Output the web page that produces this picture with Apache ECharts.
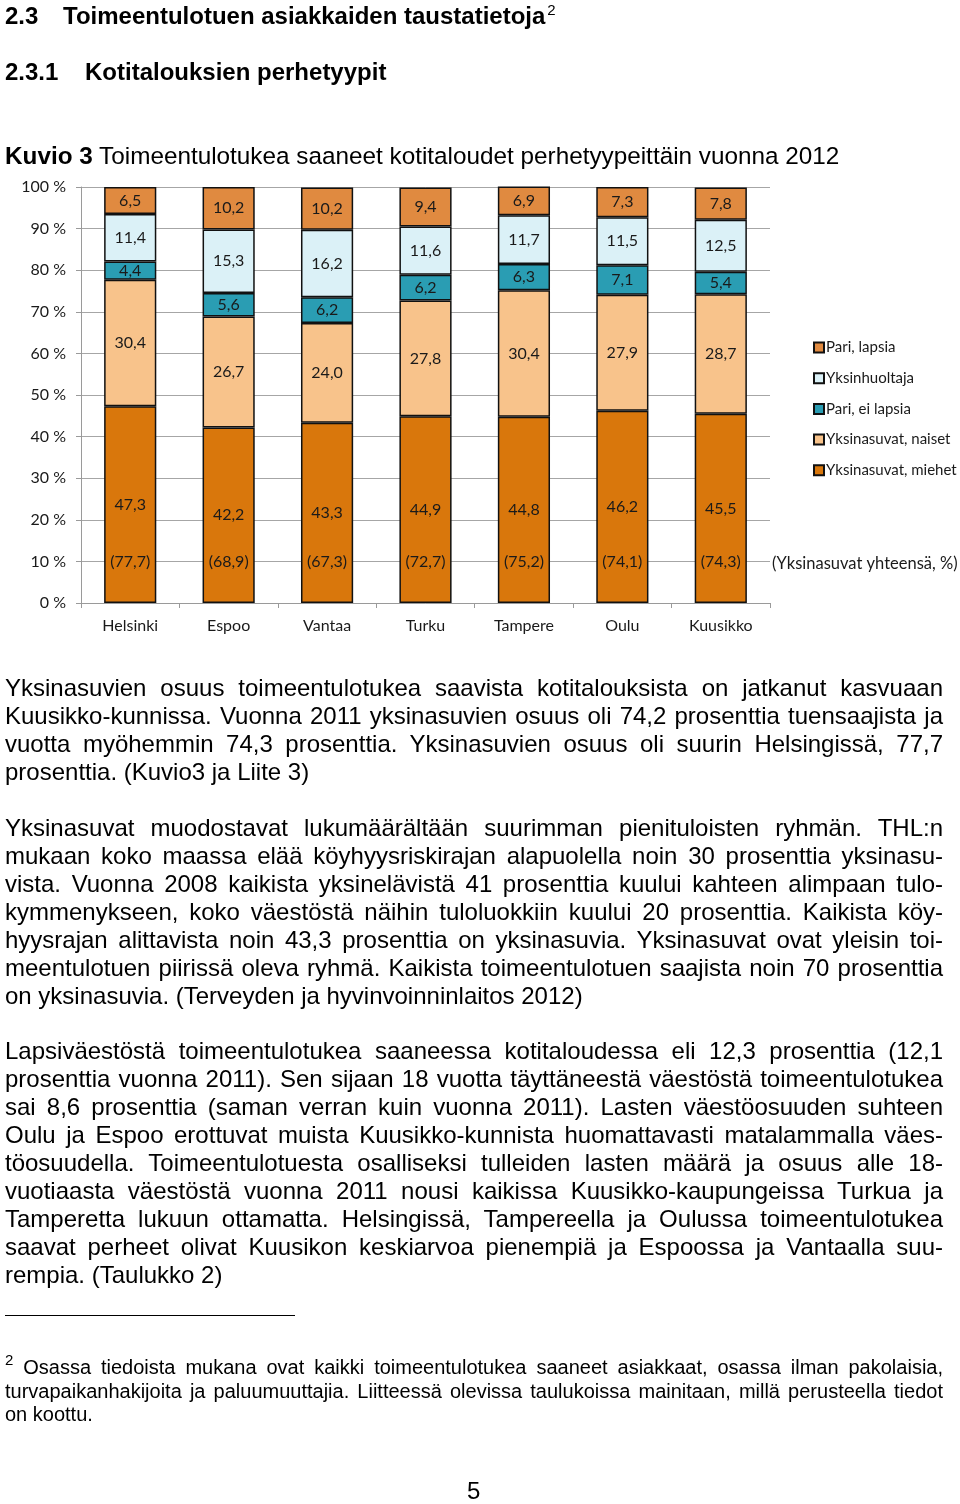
<!DOCTYPE html>
<html>
<head>
<meta charset="utf-8">
<script src="https://cdn.jsdelivr.net/npm/echarts@6/dist/echarts.min.js"></script>
<style>
  html, body { margin: 0; padding: 0; background: #fff; }
  #page { position: relative; width: 960px; height: 1504px; overflow: hidden; }
  #chart { position: absolute; left: 0; top: 0; width: 960px; height: 1504px; }
  .t { position: absolute; font-family: "Liberation Sans", Arial, sans-serif; color: #000; white-space: nowrap; }
  .h { font-size: 24px; font-weight: bold; line-height: 30px; }
  .ln { position: absolute; left: 5px; width: 938px; font-family: "Liberation Sans", Arial, sans-serif;
        font-size: 24px; line-height: 28px; height: 28px; text-align: justify; text-align-last: justify; color: #000; }
  .ln.last { text-align-last: left; }
  .fn { position: absolute; left: 5px; width: 938px; font-family: "Liberation Sans", Arial, sans-serif;
        font-size: 20px; line-height: 24px; height: 24px; text-align: justify; text-align-last: justify; color: #000; }
  .fn.last { text-align-last: left; }
  sup { font-size: 15px; line-height: 0; vertical-align: 9px; }
</style>
</head>
<body>
<div id="page">
  <div id="chart"></div>

  <div class="t h" style="left:5px; top:1px;">2.3</div>
  <div class="t h" style="left:63px; top:1px;">Toimeentulotuen asiakkaiden taustatietoja<sup style="font-weight:normal; margin-left:2px;">2</sup></div>
  <div class="t h" style="left:5px; top:57px;">2.3.1</div>
  <div class="t h" style="left:85px; top:57px;">Kotitalouksien perhetyypit</div>
  <div class="t" style="left:5px; top:141px; font-size:24.3px; line-height:30px;"><b>Kuvio 3</b> Toimeentulotukea saaneet kotitaloudet perhetyypeittäin vuonna 2012</div>

  <div id="paras"></div>

  <div style="position:absolute; left:5px; top:1315px; width:290px; height:0; border-top:1.5px solid #000;"></div>
  <div class="t" style="left:467px; top:1476px; font-size:24px; line-height:30px;">5</div>
</div>

<script>
// ---------------- DATA ----------------
const cities = ['Helsinki', 'Espoo', 'Vantaa', 'Turku', 'Tampere', 'Oulu', 'Kuusikko'];
const singlesMen     = [47.3, 42.2, 43.3, 44.9, 44.8, 46.2, 45.5];   // Yksinasuvat, miehet
const singlesWomen   = [30.4, 26.7, 24.0, 27.8, 30.4, 27.9, 28.7];   // Yksinasuvat, naiset
const couplesNoKids  = [4.4, 5.6, 6.2, 6.2, 6.3, 7.1, 5.4];          // Pari, ei lapsia
const singleParents  = [11.4, 15.3, 16.2, 11.6, 11.7, 11.5, 12.5];   // Yksinhuoltaja
const couplesKids    = [6.5, 10.2, 10.2, 9.4, 6.9, 7.3, 7.8];        // Pari, lapsia
const singlesTotal   = [77.7, 68.9, 67.3, 72.7, 75.2, 74.1, 74.3];   // Yksinasuvat yhteensä, %
const seriesNames = ['Yksinasuvat, miehet', 'Yksinasuvat, naiset', 'Pari, ei lapsia', 'Yksinhuoltaja', 'Pari, lapsia'];
const legendOrder = ['Pari, lapsia', 'Yksinhuoltaja', 'Pari, ei lapsia', 'Yksinasuvat, naiset', 'Yksinasuvat, miehet'];
const totalsNote = '(Yksinasuvat yhteensä, %)';

// ---------------- TEXT ----------------
const paragraphs = [
  { top: 674, lh: 28, cls: 'ln', lines: [
    'Yksinasuvien osuus toimeentulotukea saavista kotitalouksista on jatkanut kasvuaan',
    'Kuusikko-kunnissa. Vuonna 2011 yksinasuvien osuus oli 74,2 prosenttia tuensaajista ja',
    'vuotta myöhemmin 74,3 prosenttia. Yksinasuvien osuus oli suurin Helsingissä, 77,7',
    'prosenttia. (Kuvio3 ja Liite 3)'
  ]},
  { top: 814, lh: 28, cls: 'ln', lines: [
    'Yksinasuvat muodostavat lukumäärältään suurimman pienituloisten ryhmän. THL:n',
    'mukaan koko maassa elää köyhyysriskirajan alapuolella noin 30 prosenttia yksinasu-',
    'vista. Vuonna 2008 kaikista yksinelävistä 41 prosenttia kuului kahteen alimpaan tulo-',
    'kymmenykseen, koko väestöstä näihin tuloluokkiin kuului 20 prosenttia. Kaikista köy-',
    'hyysrajan alittavista noin 43,3 prosenttia on yksinasuvia. Yksinasuvat ovat yleisin toi-',
    'meentulotuen piirissä oleva ryhmä. Kaikista toimeentulotuen saajista noin 70 prosenttia',
    'on yksinasuvia. (Terveyden ja hyvinvoinninlaitos 2012)'
  ]},
  { top: 1037, lh: 28, cls: 'ln', lines: [
    'Lapsiväestöstä toimeentulotukea saaneessa kotitaloudessa eli 12,3 prosenttia (12,1',
    'prosenttia vuonna 2011). Sen sijaan 18 vuotta täyttäneestä väestöstä toimeentulotukea',
    'sai 8,6 prosenttia (saman verran kuin vuonna 2011). Lasten väestöosuuden suhteen',
    'Oulu ja Espoo erottuvat muista Kuusikko-kunnista huomattavasti matalammalla väes-',
    'töosuudella. Toimeentulotuesta osalliseksi tulleiden lasten määrä ja osuus alle 18-',
    'vuotiaasta väestöstä vuonna 2011 nousi kaikissa Kuusikko-kaupungeissa Turkua ja',
    'Tamperetta lukuun ottamatta. Helsingissä, Tampereella ja Oulussa toimeentulotukea',
    'saavat perheet olivat Kuusikon keskiarvoa pienempiä ja Espoossa ja Vantaalla suu-',
    'rempia. (Taulukko 2)'
  ]},
  { top: 1355, lh: 23.5, cls: 'fn', lines: [
    '<sup>2</sup> Osassa tiedoista mukana ovat kaikki toimeentulotukea saaneet asiakkaat, osassa ilman pakolaisia,',
    'turvapaikanhakijoita ja paluumuuttajia. Liitteessä olevissa taulukoissa mainitaan, millä perusteella tiedot',
    'on koottu.'
  ]}
];
const host = document.getElementById('paras');
paragraphs.forEach(p => {
  p.lines.forEach((txt, i) => {
    const d = document.createElement('div');
    d.className = p.cls + (i === p.lines.length - 1 ? ' last' : '');
    d.style.top = (p.top + i * p.lh) + 'px';
    d.innerHTML = txt;
    host.appendChild(d);
  });
});

// ---------------- CHART ----------------
const fmt = v => v.toFixed(1).replace('.', ',');
const colors = {
  'Yksinasuvat, miehet': '#D9770C',
  'Yksinasuvat, naiset': '#F8C38B',
  'Pari, ei lapsia': '#2A9DB3',
  'Yksinhuoltaja': '#DBF1F7',
  'Pari, lapsia': '#E08A40'
};
const values = [singlesMen, singlesWomen, couplesNoKids, singleParents, couplesKids];
const TOTAL_LABEL_AT = 10; // y level (in %) where the totals labels are written
const labelFont = { fontFamily: 'Lato', fontSize: 16, color: '#1a1a1a' };

const chart = echarts.init(document.getElementById('chart'), null, { renderer: 'canvas' });
const series = seriesNames.map((name, k) => ({
  name,
  type: 'bar',
  stack: 'all',
  barWidth: '53%',
  data: values[k],
  itemStyle: { color: colors[name], borderColor: '#111', borderWidth: 1.5 },
  label: { show: true, position: 'inside', formatter: p => fmt(p.value), ...labelFont },
  emphasis: { disabled: true }
}));

chart.setOption({
  animation: false,
  backgroundColor: 'transparent',
  grid: { left: 81, top: 187, width: 689, height: 416, containLabel: false },
  xAxis: {
    type: 'category',
    data: cities,
    axisLine: { show: true, lineStyle: { color: '#9a9a9a', width: 1 } },
    axisTick: { show: true, length: 5, lineStyle: { color: '#9a9a9a' } },
    axisLabel: { fontFamily: 'Lato', fontSize: 16, color: '#1a1a1a', margin: 15 }
  },
  yAxis: {
    type: 'value',
    min: 0, max: 100, interval: 10,
    axisLine: { show: true, lineStyle: { color: '#9a9a9a', width: 1 } },
    axisTick: { show: true, length: 5, lineStyle: { color: '#9a9a9a' } },
    splitLine: { show: true, lineStyle: { color: '#a6a6a6', width: 1 } },
    axisLabel: { formatter: '{value} %', fontFamily: 'Lato', fontSize: 16, color: '#1a1a1a', margin: 15 }
  },
  legend: {
    data: legendOrder,
    orient: 'vertical',
    left: 813, top: 340,
    padding: 0,
    itemWidth: 10, itemHeight: 10, itemGap: 15.7,
    icon: 'rect',
    selectedMode: false,
    textStyle: { fontFamily: 'Lato', fontSize: 15, color: '#1a1a1a', padding: [0, 0, 0, -3] }
  },
  series
});

// Totals labels ("(77,7)" ...) placed through the chart's own scales
const yPix = chart.convertToPixel({ yAxisIndex: 0 }, TOTAL_LABEL_AT);
const totalTexts = singlesTotal.map((t, i) => ({
  type: 'text',
  x: chart.convertToPixel({ xAxisIndex: 0 }, cities[i]),
  y: yPix,
  z: 100,
  style: { text: '(' + fmt(t) + ')', align: 'center', verticalAlign: 'middle',
           fontFamily: 'Lato', fontSize: 16, fill: '#1a1a1a' },
  silent: true
}));
totalTexts.push({
  type: 'text', x: 772, y: yPix + 2, z: 100,
  style: { text: totalsNote, verticalAlign: 'middle', fontFamily: 'Lato', fontSize: 16.5, fill: '#1a1a1a' },
  silent: true
});
chart.setOption({ graphic: totalTexts });
</script>
</body>
</html>
